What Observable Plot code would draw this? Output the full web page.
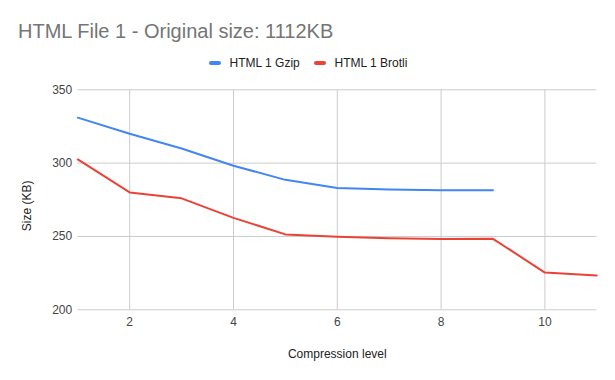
<!DOCTYPE html>
<html><head><meta charset="utf-8">
<script src="https://cdn.jsdelivr.net/npm/d3@7"></script>
<script src="https://cdn.jsdelivr.net/npm/@observablehq/plot@0.6"></script>
<style>
body{margin:0;background:#fff;font-family:"Liberation Sans",Arial,sans-serif;}
#wrap{position:relative;width:615px;height:380px;overflow:hidden;background:#fff}
#head{position:relative;height:75px}
#title{position:absolute;left:18px;top:20.8px;font-size:20px;line-height:20px;color:#757575;white-space:nowrap}
.leg{position:absolute;top:57px;font-size:12px;line-height:12px;color:#222;white-space:nowrap}
.sw{position:absolute;width:12px;height:4px;border-radius:2px;top:61px}
svg{display:block}
</style></head>
<body>
<div id="wrap"><div id="head"><div id="title"></div></div><div id="chart"></div></div>
<script>
const titleText = "HTML File 1 - Original size: 1112KB";
const seriesNames = ["HTML 1 Gzip", "HTML 1 Brotli"];
const seriesColors = ["#4285F4", "#EA4335"];
const gzipLevels = [1, 2, 3, 4, 5, 6, 7, 8, 9];
const gzipSizes = [331, 320, 310, 298.2, 288.6, 283, 282, 281.5, 281.5];
const brotliLevels = [1, 2, 3, 4, 5, 6, 7, 8, 9, 10, 11];
const brotliSizes = [302.5, 280, 276, 262.7, 251.4, 249.8, 248.8, 248.2, 248.4, 225.4, 223.4];
const xTicks = [2, 4, 6, 8, 10];
const yTicks = [200, 250, 300, 350];
const xLabel = "Compression level";
const yLabel = "Size (KB)";

document.getElementById("title").textContent = titleText;
const head = document.getElementById("head");
const legPos = [[208.5, 229.5], [313.5, 334.5]];
seriesNames.forEach((n, i) => {
  const sw = document.createElement("div");
  sw.className = "sw"; sw.style.left = legPos[i][0] + "px"; sw.style.background = seriesColors[i];
  head.appendChild(sw);
  const t = document.createElement("div");
  t.className = "leg"; t.style.left = legPos[i][1] + "px"; t.textContent = n;
  head.appendChild(t);
});

const data = [
  ...gzipLevels.map((l, i) => ({series: seriesNames[0], level: l, size: gzipSizes[i]})),
  ...brotliLevels.map((l, i) => ({series: seriesNames[1], level: l, size: brotliSizes[i]}))
];

const chart = Plot.plot({
  width: 615,
  height: 305,
  marginTop: 14.3,
  marginBottom: 70.7,
  marginLeft: 77.3,
  marginRight: 18.7,
  style: {fontFamily: '"Liberation Sans", Arial, sans-serif', fontSize: "12px", color: "#444", background: "#fff"},
  x: {domain: [1, 11]},
  y: {domain: [200, 350]},
  color: {domain: seriesNames, range: seriesColors},
  marks: [
    Plot.gridY(yTicks, {stroke: "#cccccc", strokeOpacity: 1}),
    Plot.gridX(xTicks, {stroke: "#cccccc", strokeOpacity: 1}),
    Plot.axisY(yTicks, {tickSize: 0, tickPadding: 5.6, label: null, fill: "#444"}),
    Plot.axisX(xTicks, {tickSize: 0, tickPadding: 8, label: null, fill: "#444"}),
    Plot.line(data, {x: "level", y: "size", z: "series", stroke: "series", strokeWidth: 2, strokeLinejoin: "round", curve: "linear"}),
    Plot.text([yLabel], {frameAnchor: "left", rotate: -90, dx: -51, dy: 6, textAnchor: "middle", lineAnchor: "middle", fill: "#222", fontSize: 12}),
    Plot.text([xLabel], {frameAnchor: "bottom", dy: 44, textAnchor: "middle", lineAnchor: "middle", fill: "#222", fontSize: 12})
  ]
});
document.getElementById("chart").appendChild(chart);
</script>
</body></html>
